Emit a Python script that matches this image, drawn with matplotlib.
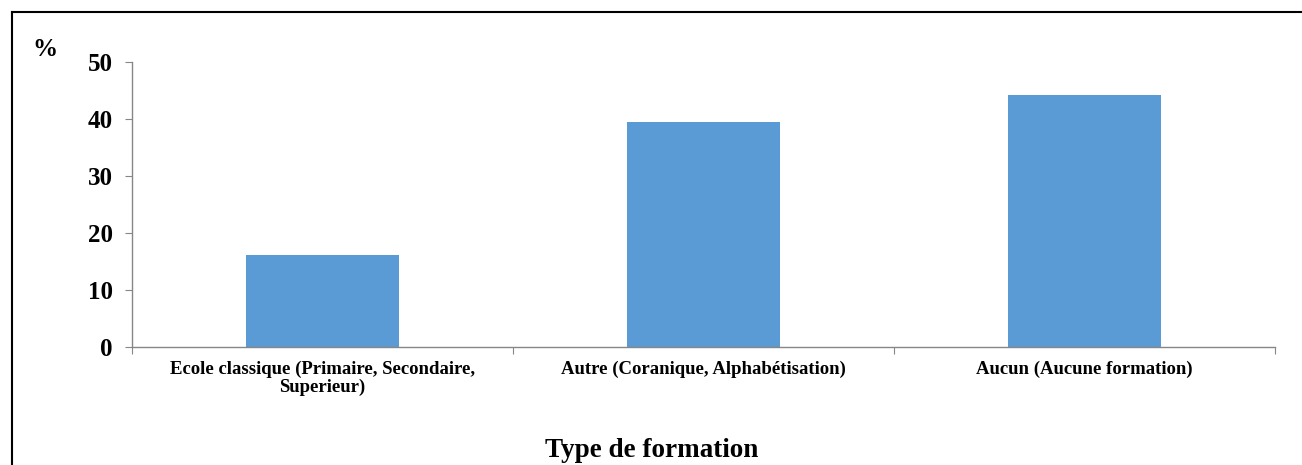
import matplotlib
matplotlib.use("Agg")
import matplotlib.pyplot as plt
from matplotlib.lines import Line2D

categories = ["Ecole classique (Primaire, Secondaire,\nSuperieur)",
              "Autre (Coranique, Alphabétisation)",
              "Aucun (Aucune formation)"]
values = [16.2, 39.5, 44.2]
yticks = [0, 10, 20, 30, 40, 50]

plt.rcParams['font.family'] = ['Liberation Serif', 'DejaVu Serif']
plt.rcParams['font.weight'] = 'bold'

W, H = 1302, 465
fig = plt.figure(figsize=(W/100, H/100), dpi=100)
ax = fig.add_axes([132/W, 118/H, (1275-132)/W, (347-62)/H])

x = list(range(len(categories)))
ax.bar(x, values, width=0.4, color='#5B9BD5', zorder=2)
ax.set_xlim(-0.5, len(categories)-0.5)
ax.set_ylim(0, 50)

gray = '#868686'
for s in ['top', 'right']:
    ax.spines[s].set_visible(False)
for s in ['left', 'bottom']:
    ax.spines[s].set_color(gray)
    ax.spines[s].set_linewidth(1.0)

ax.set_yticks(yticks)
ax.set_yticklabels([str(v) for v in yticks], fontsize=18, fontweight='bold')
ax.tick_params(axis='y', direction='out', length=5, color=gray, pad=9)

ax.set_xticks([i - 0.5 for i in range(len(categories)+1)])
ax.set_xticklabels([])
ax.tick_params(axis='x', which='major', direction='out', length=5, color=gray)
ax.set_xticks(x, minor=True)
ax.set_xticklabels(categories, minor=True, fontsize=13.5, fontweight='bold',
                   linespacing=1.0)
ax.tick_params(axis='x', which='minor', length=0, pad=10)

fig.text(32/W, 1-50/H, '%', fontsize=18, fontweight='bold', va='center', ha='left')
fig.text(652/W, 1-457/H, 'Type de formation', fontsize=19.5, fontweight='bold',
         ha='center', va='baseline')

# figure border (top and left)
fig.add_artist(Line2D([12/W, 12/W], [0, 1-12/H], color='black', lw=1.5, transform=fig.transFigure))
fig.add_artist(Line2D([12/W, 1], [1-12/H, 1-12/H], color='black', lw=1.5, transform=fig.transFigure))

fig.savefig('out.png', dpi=100, facecolor='white')
